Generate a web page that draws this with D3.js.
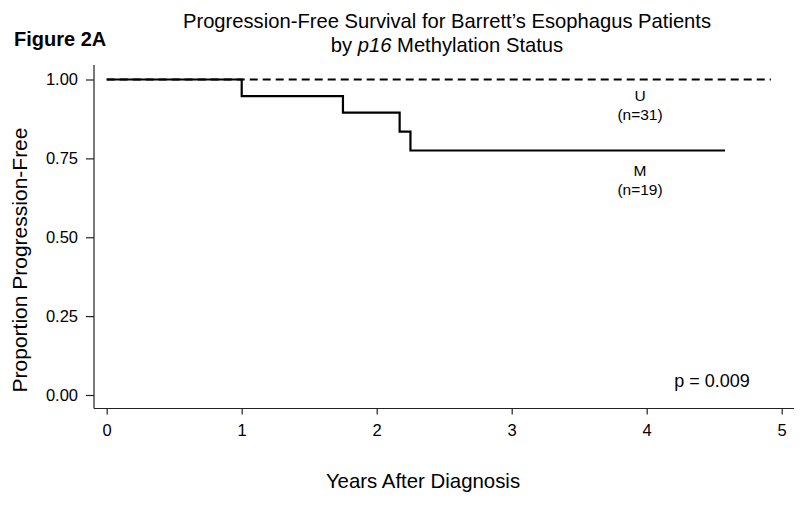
<!DOCTYPE html>
<html>
<head>
<meta charset="utf-8">
<script src="https://cdn.jsdelivr.net/npm/d3@7"></script>
<style>
  body { margin: 0; background: #fff; }
  text { font-family: "Liberation Sans", Arial, sans-serif; fill: #000; }
</style>
</head>
<body>
<div id="chart"></div>
<script>
// Kaplan-Meier steps
var mTimes = [0, 1.0, 1.75, 2.17, 2.25, 4.58];
var mSurv = [1.0, 0.947, 0.895, 0.835, 0.775, 0.775];
var uTimes = [0, 4.92];
var uSurv = [1.0, 1.0];

var xTicks = [0, 1, 2, 3, 4, 5];
var yTicks = [0, 0.25, 0.5, 0.75, 1];

var width = 800, height = 506;
var svg = d3.select('#chart').append('svg')
  .attr('width', width)
  .attr('height', height);

var x = d3.scaleLinear().domain([0, 5]).range([106.7, 781.7]);
var y = d3.scaleLinear().domain([0, 1]).range([395, 79.5]);

// axis lines
svg.append('line')
  .attr('x1', 94).attr('x2', 94).attr('y1', 65).attr('y2', 408.5)
  .attr('stroke', '#222').attr('stroke-width', 1.2);
svg.append('line')
  .attr('x1', 94).attr('x2', 794).attr('y1', 408.5).attr('y2', 408.5)
  .attr('stroke', '#222').attr('stroke-width', 1.2);

var yAxis = svg.append('g')
  .attr('transform', 'translate(94,0)')
  .call(d3.axisLeft(y).tickValues(yTicks).tickFormat(d3.format('.2f')).tickSize(8).tickPadding(8));
yAxis.select('.domain').remove();
yAxis.selectAll('line').attr('stroke', '#222').attr('stroke-width', 1.2);
yAxis.selectAll('text').style('font-size', '16.5px').style('font-family', '"Liberation Sans", Arial, sans-serif');

var xAxis = svg.append('g')
  .attr('transform', 'translate(0,408.5)')
  .call(d3.axisBottom(x).tickValues(xTicks).tickFormat(d3.format('d')).tickSize(6).tickPadding(10));
xAxis.select('.domain').remove();
xAxis.selectAll('line').attr('stroke', '#222').attr('stroke-width', 1.2);
xAxis.selectAll('text').style('font-size', '16.5px').style('font-family', '"Liberation Sans", Arial, sans-serif');

// curves
var line = d3.line()
  .x(d => x(d[0]))
  .y(d => y(d[1]))
  .curve(d3.curveStepAfter);

svg.append('path')
  .datum(d3.zip(uTimes, uSurv))
  .attr('d', line)
  .attr('fill', 'none')
  .attr('stroke', '#000')
  .attr('stroke-width', 2)
  .attr('stroke-dasharray', '8,5');

svg.append('path')
  .datum(d3.zip(mTimes, mSurv))
  .attr('d', line)
  .attr('fill', 'none')
  .attr('stroke', '#000')
  .attr('stroke-width', 2.2);

// curve labels
var labels = [
  {t: 'U', x: 640, y: 101},
  {t: '(n=31)', x: 640, y: 120},
  {t: 'M', x: 640, y: 176},
  {t: '(n=19)', x: 640, y: 195}
];
svg.selectAll('text.lab')
  .data(labels)
  .enter()
  .append('text')
  .attr('class', 'lab')
  .attr('x', d => d.x)
  .attr('y', d => d.y)
  .attr('text-anchor', 'middle')
  .style('font-size', '15.5px')
  .text(d => d.t);

svg.append('text')
  .attr('x', 712).attr('y', 387)
  .attr('text-anchor', 'middle')
  .style('font-size', '18px')
  .text('p = 0.009');

// titles
svg.append('text')
  .attr('x', 447).attr('y', 28)
  .attr('text-anchor', 'middle')
  .style('font-size', '20.2px')
  .text('Progression-Free Survival for Barrett\u2019s Esophagus Patients');

var t2 = svg.append('text')
  .attr('x', 447).attr('y', 52)
  .attr('text-anchor', 'middle')
  .style('font-size', '20.2px');
t2.append('tspan').text('by ');
t2.append('tspan').style('font-style', 'italic').text('p16');
t2.append('tspan').text(' Methylation Status');

svg.append('text')
  .attr('x', 14).attr('y', 46)
  .style('font-size', '20px')
  .style('font-weight', 'bold')
  .text('Figure 2A');

svg.append('text')
  .attr('transform', 'translate(27,260) rotate(-90)')
  .attr('text-anchor', 'middle')
  .style('font-size', '21px')
  .text('Proportion Progression-Free');

svg.append('text')
  .attr('x', 423).attr('y', 488)
  .attr('text-anchor', 'middle')
  .style('font-size', '20.4px')
  .text('Years After Diagnosis');
</script>
</body>
</html>
